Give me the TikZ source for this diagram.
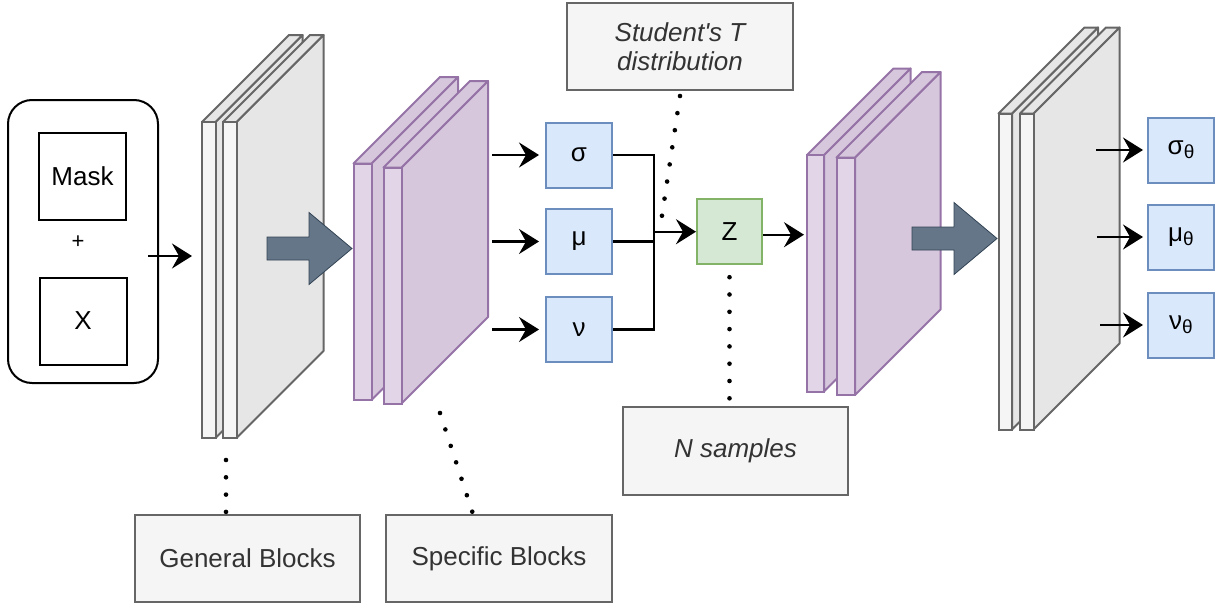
\documentclass[tikz,border=0pt]{standalone}
\usepackage{fontspec}
\setmainfont{Liberation Sans}
\usetikzlibrary{arrows.meta}

\definecolor{cGrayFront}{HTML}{F5F5F5}
\definecolor{cGraySide}{HTML}{E6E6E6}
\definecolor{cGrayLine}{HTML}{666666}
\definecolor{cPurFront}{HTML}{E1D5E7}
\definecolor{cPurSide}{HTML}{D6C7DD}
\definecolor{cPurLine}{HTML}{9673A6}
\definecolor{cBlueFill}{HTML}{DAE8FC}
\definecolor{cBlueLine}{HTML}{6C8EBF}
\definecolor{cGreenFill}{HTML}{D5E8D4}
\definecolor{cGreenLine}{HTML}{82B366}
\definecolor{cArrowFill}{HTML}{647687}
\definecolor{cArrowLine}{HTML}{314354}
\definecolor{cNoteText}{HTML}{333333}

% one layer of a block stack: side face, top face, then the named front face
% #1 name, #2 left, #3 top, #4 width, #5 height, #6 depth, #7 colour scheme
\newcommand{\cubeslab}[7]{%
  \path[#7side] (#2+#4,#3) -- (#2+#4+#6,#3-#6) -- (#2+#4+#6,#3+#5-#6) -- (#2+#4,#3+#5) -- cycle;
  \path[#7side] (#2,#3) -- (#2+#6,#3-#6) -- (#2+#4+#6,#3-#6) -- (#2+#4,#3) -- cycle;
  \node[#7front, anchor=north west, minimum width=#4, minimum height=#5] (#1) at (#2,#3) {};
}

% thick block arrow pointing right, drawn back from its tip
\newcommand{\fatarrow}[1]{%
  \path[bigarrow] (#1) -- ++(-43,-36) -- ++(0,24.5) -- ++(-42,0) -- ++(0,23)
    -- ++(42,0) -- ++(0,24.5) -- cycle;
}

\begin{document}
\begin{tikzpicture}[x=1pt,y=-1pt,
  txt/.style={font=\fontsize{26}{30}\selectfont},
  grayfront/.style={fill=cGrayFront, draw=cGrayLine, line width=2pt, inner sep=0pt, outer sep=0pt},
  grayside/.style={fill=cGraySide, draw=cGrayLine, line width=2pt, line join=round},
  purplefront/.style={fill=cPurFront, draw=cPurLine, line width=2pt, inner sep=0pt, outer sep=0pt},
  purpleside/.style={fill=cPurSide, draw=cPurLine, line width=2pt, line join=round},
  bigarrow/.style={fill=cArrowFill, draw=cArrowLine, line width=0.8pt, line join=miter},
  inbox/.style={txt, draw=black, line width=2pt, minimum width=87, minimum height=87, inner sep=0pt},
  param/.style={txt, fill=cBlueFill, draw=cBlueLine, line width=2pt, minimum width=66, minimum height=65, inner sep=0pt},
  latent/.style={txt, fill=cGreenFill, draw=cGreenLine, line width=2pt, minimum width=65, minimum height=65, inner sep=0pt},
  note/.style={txt, fill=cGrayFront, draw=cGrayLine, line width=2pt, text=cNoteText, inner sep=0pt, align=center},
  conn/.style={draw=black, line width=2.2pt, -{Stealth[length=20pt, width=25pt, inset=7pt]}},
  wire/.style={draw=black, line width=2.2pt},
  dotline/.style={draw=black, line width=4.6pt, line cap=round, dash pattern=on 0pt off 17.3pt}]
\useasboundingbox (0,0) rectangle (1218,605);

% ---------- input: mask + x ----------
\node[draw=black, line width=2pt, rounded corners=24pt, minimum width=150, minimum height=283] (input) at (83,241.5) {};
\node[inbox] (mask) at (82.5,176.5) {Mask};
\node[font=\fontsize{22}{22}\selectfont] (plus) at (78,242) {+};
\node[inbox] (x) at (83,321) {X};

% ---------- general blocks (encoder) ----------
\cubeslab{g1a}{202}{122}{13.5}{316}{87}{gray}
\cubeslab{g1b}{223}{122}{13.5}{316}{87}{gray}

\coordinate (inpt) at (148,256);
\draw[conn, shorten >=10pt] (inpt) -- (inpt -| g1a.west);

\coordinate (a1tip) at (352,248.5);
\fatarrow{a1tip}

% ---------- specific blocks (encoder) ----------
\cubeslab{p1a}{353.5}{163.5}{18}{236.5}{86.5}{purple}
\cubeslab{p1b}{383.5}{167.5}{18}{236}{86.5}{purple}

% ---------- distribution parameters ----------
\node[param] (s) at (579,155) {σ};
\node[param] (m) at (579,241.5) {μ};
\node[param] (v) at (579,329.5) {ν};
\foreach \p in {s,m,v}
  \draw[conn, shorten >=6pt] ([xshift=-53pt]\p.west) -- (\p.west);

\node[latent] (z) at (729.5,231.7) {Z};
\coordinate (jn) at (654,231.7);
\draw[wire] (s.east) -| (jn);
\draw[wire] (v.east) -| (jn);
\draw[wire] (m.east) -- (m.east -| jn);
\draw[conn] (jn) -- (z.west);

% ---------- specific blocks (decoder) ----------
\cubeslab{p2a}{807}{155}{17}{236.5}{86.5}{purple}
\cubeslab{p2b}{836.5}{157.5}{18.5}{237.5}{85.5}{purple}
\draw[conn, shorten >=3pt] ([yshift=-3pt]z.east) -- ([yshift=-3pt]z.east -| p2a.west);

\coordinate (a2tip) at (997,238.5);
\fatarrow{a2tip}

% ---------- general blocks (decoder) ----------
\cubeslab{g2a}{998.5}{113.5}{13.5}{316}{86}{gray}
\cubeslab{g2b}{1020}{113.5}{13.5}{316}{86}{gray}

\node[param] (so) at (1181,150) {σ\raisebox{-4pt}{\fontsize{19}{19}\selectfont θ}};
\node[param] (mo) at (1181,237) {μ\raisebox{-4pt}{\fontsize{19}{19}\selectfont θ}};
\node[param] (vo) at (1181,325) {ν\raisebox{-4pt}{\fontsize{19}{19}\selectfont θ}};
\draw[conn, shorten >=4pt] ([xshift=-51pt]so.west) -- (so.west);
\draw[conn, shorten >=4pt] ([xshift=-50pt]mo.west) -- (mo.west);
\draw[conn, shorten >=4pt] ([xshift=-47pt]vo.west) -- (vo.west);

% ---------- annotations ----------
\node[note, minimum width=226, minimum height=87, font=\fontsize{26}{29}\itshape] (stud) at (680,46.5)
  {Student\textquotesingle s T\\distribution};
\node[note, minimum width=225, minimum height=88, font=\fontsize{26}{30}\itshape] (ns) at (735.5,451) {N samples};
\node[note, minimum width=225, minimum height=87] (gen) at (247.5,558.5) {General Blocks};
\node[note, minimum width=226, minimum height=87] (spec) at (499,558.5) {Specific Blocks};

\coordinate (studend) at (661,222);
\draw[dotline] ([yshift=-5pt]stud.south) -- (studend);
\draw[dotline] ([yshift=-12pt]z.south) -- (z.south |- ns.north);
\coordinate (gtail) at (226,460);
\draw[dotline] (gtail) -- (gtail |- gen.north);
\coordinate (stail) at (440,413);
\draw[dotline] (stail) -- ([xshift=-26pt]spec.north);
\end{tikzpicture}
\end{document}
